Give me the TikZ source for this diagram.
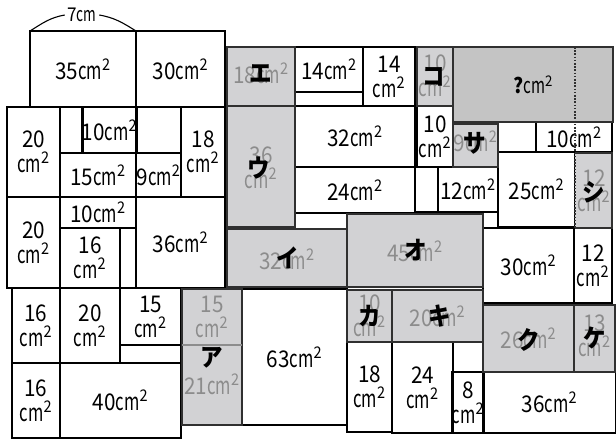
\documentclass[tikz,border=0pt]{standalone}
\usepackage{fontspec}
\setmainfont[FakeStretch=0.9]{Noto Sans CJK JP}
\usepackage{graphicx}
\definecolor{cellgray}{HTML}{D2D2D4}
\definecolor{qgray}{HTML}{C4C4C4}
\definecolor{edgedark}{HTML}{303030}
\definecolor{numgray}{HTML}{8C8C8C}
\newcommand{\sqcm}{\scalebox{0.8}[1.05]{cm}\textsuperscript{2}}

\begin{document}
\begin{tikzpicture}[x=1pt, y=-1pt,
    font=\fontsize{23}{25}\selectfont,
    sz/.style n args={2}{minimum width=#1pt, minimum height=#2pt},
    wb/.style={draw=black, line width=1.6pt, inner sep=0pt, outer sep=0pt,
               align=center},
    gb/.style={draw=edgedark, line width=2.6pt, fill=cellgray, inner sep=0pt,
               outer sep=0pt},
    gnum/.style={text=numgray, inner sep=0pt, align=center},
    kana/.style={inner sep=0pt, font=\fontsize{25}{25}\selectfont\bfseries},
  ]
  \useasboundingbox (0,0) rectangle (616,441);

  % white cells, left part
  \node[wb, sz={106}{76}] (r35) at (83,69) {35\sqcm};
  \node[wb, sz={89}{76}] (r30) at (180.5,69) {30\sqcm};
  \node[wb, sz={53}{90}] (r20a) at (33.5,152) {20\\\sqcm};
  \node[wb, sz={23}{46}] (e1) at (71.5,130) {};
  \node[wb, sz={45}{46}] (e2) at (158.5,130) {};
  \node[wb, sz={53}{46}] (r10a) at (109.5,130) {10\sqcm};
  \node[wb, sz={76}{44}] (r15a) at (98,175) {15\sqcm};
  \node[wb, sz={45}{44}] (r9) at (158.5,175) {9\sqcm};
  \node[wb, sz={44}{90}] (r18a) at (203,152) {18\\\sqcm};
  \node[wb, sz={53}{91}] (r20b) at (33.5,242.5) {20\\\sqcm};
  \node[wb, sz={76}{31}] (r10b) at (98,212.5) {10\sqcm};
  \node[wb, sz={60}{60}] (r16a) at (90,258) {16\\\sqcm};
  \node[wb, sz={16}{60}] (e3) at (128,258) {};
  \node[wb, sz={89}{91}] (r36a) at (180.5,242.5) {36\sqcm};
  \node[wb, sz={48}{75}] (r16b) at (36,325.5) {16\\\sqcm};
  \node[wb, sz={60}{75}] (r20c) at (90,325.5) {20\\\sqcm};
  \node[wb, sz={61}{57}] (r15b) at (150.5,316.5) {15\\\sqcm};
  \node[wb, sz={61}{18}] (e4) at (150.5,354) {};
  \node[wb, sz={48}{75}] (r16c) at (36,400.5) {16\\\sqcm};
  \node[wb, sz={121}{75}] (r40) at (120.5,400.5) {40\sqcm};
  \node[wb, sz={105}{136}] (r63) at (294.5,357) {63\sqcm};

  % white cells, middle and right part
  \node[wb, sz={68}{45}] (r14a) at (329,69.5) {14\sqcm};
  \node[wb, sz={68}{14}] (e5) at (329,99) {};
  \node[wb, sz={52}{59}] (r14b) at (389,76.5) {14\\\sqcm};
  \node[wb, sz={120}{61}] (r32) at (355,136.5) {32\sqcm};
  \node[wb, sz={120}{46}] (r24a) at (355,190) {24\sqcm};
  \node[wb, sz={52}{16}] (e6) at (321,221) {};
  \node[wb, sz={36}{61}] (r10c) at (435,136.5) {10\\\sqcm};
  \node[wb, sz={23}{45}] (e7) at (426.5,189.5) {};
  \node[wb, sz={60}{45}] (r12a) at (468,189.5) {12\sqcm};
  \node[wb, sz={15}{16}] (e8) at (490.5,220) {};
  \node[wb, sz={38}{30}] (e9) at (517,137) {};
  \node[wb, sz={76}{30}] (r10d) at (574,137) {10\sqcm};
  \node[wb, sz={77}{75}] (r25) at (536.5,189.5) {25\sqcm};
  \node[wb, sz={91}{75}] (r30b) at (528.5,265.5) {30\sqcm};
  \node[wb, sz={38}{75}] (r12b) at (593,265.5) {12\\\sqcm};
  \node[wb, sz={45}{90}] (r18b) at (369.5,387) {18\\\sqcm};
  \node[wb, sz={61}{91}] (r24b) at (422.5,387.5) {24\\\sqcm};
  \node[wb, sz={30}{30}] (e10) at (468,357) {};
  \node[wb, sz={30}{61}] (r8) at (468,402.5) {8\\\sqcm};
  \node[wb, sz={133}{61}] (r36b) at (549.5,402.5) {36\sqcm};

  % grey cells
  \node[gb, sz={60}{136}] (gA) at (212,357) {};
  \draw[edgedark!55, line width=1.6pt] (gA.west |- r15b.south) -- (gA.east |- r15b.south);
  \node[gnum] (nA15) at (212,317) {15\\\sqcm};
  \node[gnum] (nA21) at (212,384) {21\sqcm};
  \node[kana] (kA) at (212,358) {ア};

  \node[gb, sz={120}{58}] (gI) at (287,258) {};
  \node[gnum] (nI) at (287,259) {32\sqcm};
  \node[kana] (kI) at (288,258) {イ};

  \node[gb, sz={68}{121}] (gU) at (261,166.5) {};
  \node[gnum] (nU) at (261,168) {36\\\sqcm};
  \node[kana] (kU) at (259,168) {ウ};

  \node[gb, sz={68}{59}] (gE) at (261,76.5) {};
  \node[gnum] (nE) at (261,73) {18\sqcm};
  \node[kana] (kE) at (261,74) {エ};

  \node[gb, sz={136}{73}] (gO) at (415,250.5) {};
  \node[gnum] (nO) at (415,251) {45\sqcm};
  \node[kana] (kO) at (416,250) {オ};

  \node[gb, sz={45}{52}] (gKa) at (369.5,316) {};
  \node[gnum] (nKa) at (369.5,316) {10\\\sqcm};
  \node[kana] (kKa) at (369.5,316) {カ};

  \node[gb, sz={91}{52}] (gKi) at (437.5,316) {};
  \node[gnum] (nKi) at (437.5,316) {20\sqcm};
  \node[kana] (kKi) at (440,316) {キ};

  \node[gb, sz={91}{67}] (gKu) at (528.5,338.5) {};
  \node[gnum] (nKu) at (528.5,338) {26\sqcm};
  \node[kana] (kKu) at (529,340) {ク};

  \node[gb, sz={41}{67}] (gKe) at (594.5,338.5) {};
  \node[gnum] (nKe) at (594.5,336) {13\\\sqcm};
  \node[kana] (kKe) at (595,338) {ケ};

  \node[gb, sz={36}{59}] (gKo) at (435,76.5) {};
  \node[gnum] (nKo) at (435,76) {10\\\sqcm};
  \node[kana] (kKo) at (434,77) {コ};

  \node[gb, sz={45}{43}] (gSa) at (475.5,145.5) {};
  \node[gnum] (nSa) at (475.5,141) {9\sqcm};
  \node[kana] (kSa) at (475,143) {サ};

  \node[gb, fill=qgray, sz={160}{75}] (gQ) at (533,84.5) {};
  \node[inner sep=0pt, font=\fontsize{21}{25}\selectfont] (nQ) at (533,85) {\textbf{?}\sqcm};

  \node[gb, draw=none, sz={37}{75}] (gShi) at (593.5,190.5) {};
  \draw[edgedark, line width=2.6pt] (gShi.south west) -- (gShi.south east)
    -- (gShi.north east) -- (gShi.north west);
  \node[gnum] (nShi) at (594,191) {12\\\sqcm};
  \node[kana] (kShi) at (594,192) {シ};
  \draw[edgedark, line width=1.8pt, dash pattern=on 1.6pt off 1.6pt]
    (gQ.north -| gShi.west) -- (gShi.south west);

  % width mark
  \node[font=\fontsize{19}{20}\selectfont, inner sep=2.5pt] (len) at (82,15)
    {7\scalebox{0.8}[1.05]{cm}};
  \draw[line width=1.1pt] (r35.north west) to[out=32, in=190] (len.west);
  \draw[line width=1.1pt] (len.east) to[out=-10, in=148] (r35.north east);
\end{tikzpicture}
\end{document}
